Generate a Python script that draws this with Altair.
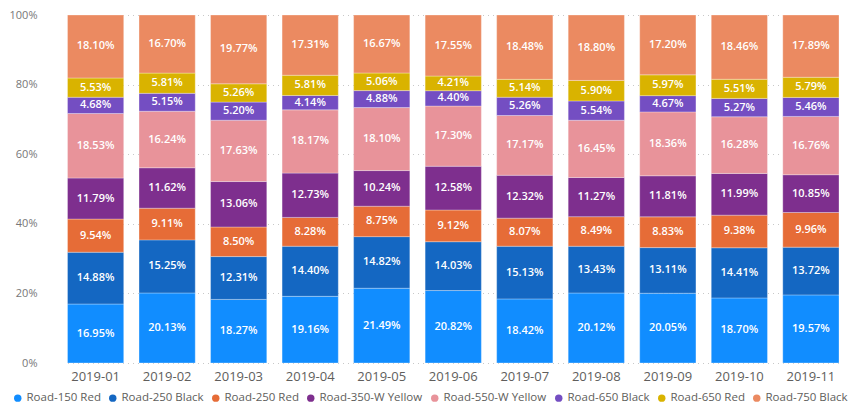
import altair as alt
import pandas as pd

months = ["2019-01", "2019-02", "2019-03", "2019-04", "2019-05", "2019-06",
          "2019-07", "2019-08", "2019-09", "2019-10", "2019-11"]
products = ["Road-150 Red", "Road-250 Black", "Road-250 Red", "Road-350-W Yellow",
            "Road-550-W Yellow", "Road-650 Black", "Road-650 Red", "Road-750 Black"]
colors = ["#118DFF", "#1467C2", "#E66C37", "#7E2F8E", "#E8939A", "#744EC2", "#D9B300", "#EB8A61"]

road_150_red = [16.95, 20.13, 18.27, 19.16, 21.49, 20.82, 18.42, 20.12, 20.05, 18.70, 19.57]
road_250_black = [14.88, 15.25, 12.31, 14.40, 14.82, 14.03, 15.13, 13.43, 13.11, 14.41, 13.72]
road_250_red = [9.54, 9.11, 8.50, 8.28, 8.75, 9.12, 8.07, 8.49, 8.83, 9.38, 9.96]
road_350_w_yellow = [11.79, 11.62, 13.06, 12.73, 10.24, 12.58, 12.32, 11.27, 11.81, 11.99, 10.85]
road_550_w_yellow = [18.53, 16.24, 17.63, 18.17, 18.10, 17.30, 17.17, 16.45, 18.36, 16.28, 16.76]
road_650_black = [4.68, 5.15, 5.20, 4.14, 4.88, 4.40, 5.26, 5.54, 4.67, 5.27, 5.46]
road_650_red = [5.53, 5.81, 5.26, 5.81, 5.06, 4.21, 5.14, 5.90, 5.97, 5.51, 5.79]
road_750_black = [18.10, 16.70, 19.77, 17.31, 16.67, 17.55, 18.48, 18.80, 17.20, 18.46, 17.89]

series = [road_150_red, road_250_black, road_250_red, road_350_w_yellow,
          road_550_w_yellow, road_650_black, road_650_red, road_750_black]

rows = []
for i, (p, vals) in enumerate(zip(products, series)):
    for m, v in zip(months, vals):
        rows.append({"month": m, "product": p, "order": i, "value": v})
df = pd.DataFrame(rows)

FONT = "Segoe UI, Open Sans"

base = alt.Chart(df).transform_stack(
    stack="value", groupby=["month"], as_=["y0", "y1"],
    offset="normalize", sort=[alt.SortField("order", order="ascending")]
).transform_calculate(
    ymid="(datum.y0 + datum.y1) / 2",
    label="format(datum.value, '.2f') + '%'"
)

xenc = alt.X("month:N", sort=months, title=None,
             scale=alt.Scale(range=[26.5, 798], paddingInner=0.214, paddingOuter=0),
             axis=alt.Axis(labelAngle=0, ticks=False, domain=False, labelPadding=7,
                           labelFontSize=13, labelColor="#605E5C", labelFont=FONT))

bars = base.mark_bar(stroke="#ffffff", strokeWidth=0.6, strokeOpacity=0.5).encode(
    x=xenc,
    y=alt.Y("y0:Q", title=None, scale=alt.Scale(domain=[0, 1], nice=False),
            axis=alt.Axis(format="%", values=[0, 0.2, 0.4, 0.6, 0.8, 1.0],
                          ticks=False, domain=False, labelPadding=4,
                          labelFontSize=11, labelColor="#777777", labelFont=FONT,
                          gridDash=[1, 4], gridColor="#C8C8C8", gridWidth=1)),
    y2="y1:Q",
    color=alt.Color("product:N", sort=products,
                    scale=alt.Scale(domain=products, range=colors),
                    legend=alt.Legend(title=None, orient="none", direction="horizontal",
                                      legendX=-29, legendY=377, symbolType="circle",
                                      symbolSize=55, symbolStrokeWidth=0, labelFontSize=11.5,
                                      labelFont=FONT, labelColor="#605E5C", labelOffset=3,
                                      columnPadding=6, padding=0, columns=8)),
    order=alt.Order("order:Q"),
)

labels = base.mark_text(color="white", fontSize=11, fontWeight=600, font=FONT).encode(
    x=alt.X("month:N", sort=months),
    y=alt.Y("ymid:Q"),
    text="label:N",
)

chart = alt.layer(bars, labels).properties(
    width=810, height=348,
    autosize=alt.AutoSizeParams(type="none"),
    padding={"left": 33, "top": 7, "right": 0, "bottom": 41},
).configure_view(stroke=None)

chart.save("out.html", embed_options={"renderer": "svg", "actions": False})
